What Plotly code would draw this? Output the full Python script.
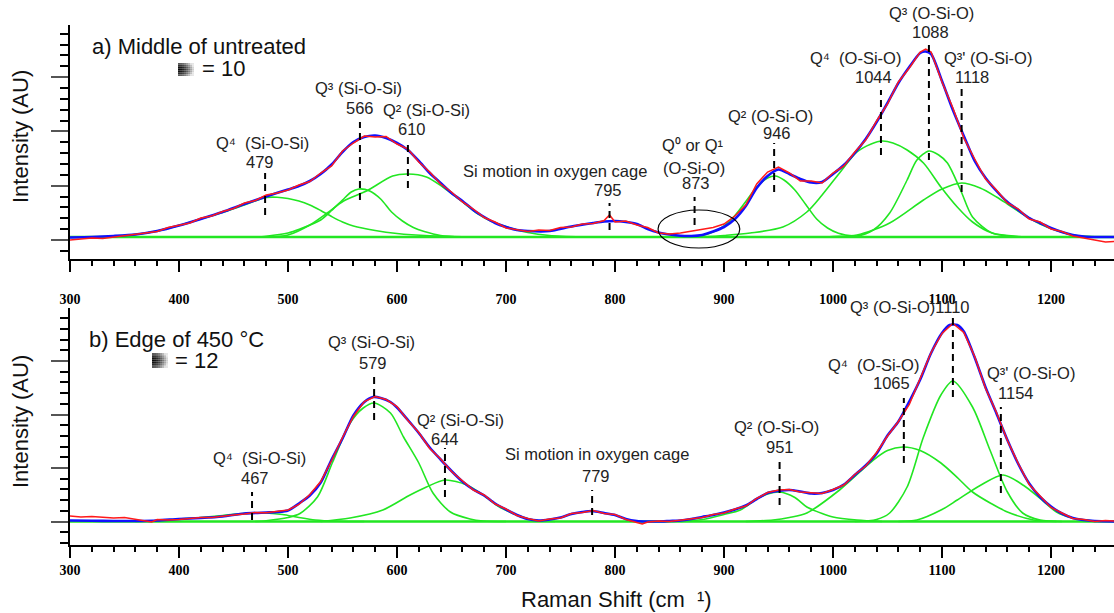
import plotly.graph_objects as go

# ------------------------------------------------------------------
# DATA  (Raman shift in cm-1, intensity in arbitrary counts above baseline)
# ------------------------------------------------------------------
x_range = [300, 1257.8]
a_y_range = [-215, 2120]
b_y_range = [-235, 2135]
baseline_x = [300, 1258]
baseline_y = [0, 0]

# ---- panel a) Middle of untreated ----
a_meas_x = [300,310,320,330,340,350,360,370,380,390,400,410,420,430,440,450,460,470,480,490,
            500,510,520,530,540,550,560,570,580,590,600,610,620,630,640,650,660,670,680,690,
            700,710,720,730,740,750,760,770,780,790,795,800,810,820,830,840,850,860,870,880,890,
            900,910,920,930,940,950,960,970,980,990,1000,1010,1020,1030,1040,1050,1060,1070,1080,1085,1090,
            1100,1110,1120,1130,1140,1150,1160,1170,1180,1190,1200,1210,1220,1230,1240,1250,1258]
a_meas_y = [-30,-20,-10,-15,0,15,30,45,55,95,120,140,190,210,255,285,340,365,420,440,
            470,520,555,640,710,860,940,1010,1000,1005,930,880,750,650,530,450,350,280,195,150,
            90,75,55,70,65,95,100,130,135,165,220,150,160,120,95,40,30,40,60,75,95,
            130,210,320,530,650,700,640,560,560,540,640,710,850,970,1160,1330,1550,1690,1850,1880,1850,
            1550,1290,990,780,580,470,340,280,180,150,80,55,10,-10,-30,-50,-45]

a_fit_x = [300,320,340,360,380,400,420,440,460,480,500,510,520,530,540,550,560,570,580,590,600,
           610,620,630,640,650,660,670,680,690,700,710,720,740,760,780,790,800,810,820,830,
           840,850,860,870,880,890,900,910,920,930,940,950,960,970,980,990,1000,1010,1020,1030,
           1040,1050,1060,1070,1080,1085,1090,1100,1110,1120,1130,1140,1150,1160,1170,1180,1190,1200,1210,1220,
           1230,1240,1258]
a_fit_y = [-5,0,10,25,60,115,180,250,330,405,475,510,560,630,725,850,950,1000,1015,990,940,
           870,760,640,540,440,360,270,200,140,100,70,60,60,105,140,155,160,150,130,80,
           45,25,12,10,20,55,100,180,310,490,610,675,630,580,545,550,630,720,840,980,
           1150,1340,1540,1700,1840,1855,1830,1560,1270,1010,760,590,460,350,270,190,140,90,50,20,
           5,0,0]

a_q4_479_x = [340,360,380,400,420,440,460,480,490,500,510,520,530,540,550,560,580,600,630,660,700]
a_q4_479_y = [10,25,60,115,180,245,320,395,398,385,360,320,265,205,150,110,65,35,12,3,0]
a_q3_566_x = [470,480,500,511,530,540,550,558,565,575,585,595,605,615,625,640,660]
a_q3_566_y = [0,8,40,80,170,265,370,450,480,460,380,250,160,95,55,15,0]
a_q2_610_x = [480,500,520,536,551,572,596,610,627,642,658,673,688,704,720,740,770]
a_q2_610_y = [0,20,120,240,360,460,610,630,600,500,370,240,150,90,45,15,0]
a_q2_946_x = [860,880,890,900,910,920,930,940,947,955,965,975,985,995,1005,1020,1040]
a_q2_946_y = [0,15,50,110,215,355,500,590,610,570,470,325,180,90,38,8,0]
a_q4_1044_x = [880,900,924,954,976,990,1006,1022,1035,1045,1055,1068,1083,1099,1114,1128,1146,1170,1190]
a_q4_1044_y = [0,15,40,100,250,420,640,850,930,960,940,870,740,500,300,150,40,5,0]
a_q3_1088_x = [1000,1020,1037,1052,1068,1077,1088,1097,1105,1117,1128,1146,1165,1180]
a_q3_1088_y = [0,5,70,240,570,770,860,820,740,470,200,40,5,0]
a_q3p_1118_x = [980,1000,1022,1052,1083,1100,1118,1135,1150,1160,1174,1190,1205,1220,1240]
a_q3p_1118_y = [0,5,20,140,370,480,540,490,400,330,230,130,65,20,3]

a_labels = [("Q⁴  (Si-O-Si)", 477, 940), ("479", 474, 750),
            ("Q³ (Si-O-Si)", 565, 1490), ("566", 566, 1290),
            ("Q² (Si-O-Si)", 627.5, 1270), ("610", 614, 1080),
            ("Si motion in oxygen cage", 745, 660), ("795", 793.5, 470),
            ("Q⁰ or Q¹", 872, 920), ("(O-Si-O)", 872.5, 690), ("873", 874, 540),
            ("Q² (O-Si-O)", 943, 1210), ("946", 948.5, 1040),
            ("Q⁴  (O-Si-O)", 1021, 1790), ("1044", 1037.5, 1600),
            ("Q³ (O-Si-O)", 1090, 2240), ("1088", 1089, 2050),
            ("Q³' (O-Si-O)", 1142, 1790), ("1118", 1127.5, 1600)]
a_peaks = [479, 566, 610, 795, 873, 946, 1044, 1088, 1118]
a_dash_lo = [220, 370, 490, 70, 120, 450, 820, 770, 450]
a_dash_hi = [640, 1150, 970, 340, 400, 940, 1470, 1950, 1500]

# ---- panel b) Edge of 450 °C ----
b_meas_x = [300,310,320,330,340,350,360,370,375,380,390,400,410,420,430,440,450,460,470,480,490,
            500,510,520,530,540,550,560,570,580,590,600,610,620,630,640,650,660,670,680,690,
            700,710,720,730,740,750,760,770,780,790,800,810,820,825,830,840,850,860,870,880,890,
            900,910,920,930,940,950,960,970,980,990,1000,1010,1020,1030,1040,1050,1060,1070,1080,1090,
            1100,1110,1120,1130,1140,1150,1160,1170,1180,1190,1200,1210,1220,1230,1240,1250,1258]
b_meas_y = [55,45,50,40,35,40,25,10,-5,20,15,20,30,40,40,55,65,75,90,88,100,
            115,170,270,400,610,840,1050,1200,1250,1220,1150,1010,890,730,625,500,405,315,265,175,
            125,60,30,5,25,35,80,90,110,80,70,20,-10,-25,-5,5,0,15,30,40,70,
            85,125,155,230,290,315,320,295,285,280,320,365,470,555,690,855,1000,1170,1430,1690,
            1880,1980,1890,1650,1330,1090,810,580,370,250,140,85,30,20,0,10,5]

b_fit_x = [300,320,340,360,380,400,420,440,460,480,490,500,510,520,530,540,550,560,570,578,
           585,594,600,610,620,630,640,650,660,670,680,690,700,710,720,730,740,750,760,770,
           779,790,800,810,820,830,840,850,860,870,880,890,900,910,920,930,940,950,960,970,
           980,990,1000,1010,1020,1030,1040,1050,1060,1070,1080,1090,1100,1107,1114,1120,1130,1140,1150,1160,
           1170,1180,1190,1200,1210,1220,1230,1240,1258]
b_fit_y = [10,8,5,5,10,25,35,50,80,90,95,110,180,260,390,620,830,1060,1195,1245,
           1235,1195,1140,1015,885,740,620,505,400,320,260,180,120,65,25,10,20,40,75,95,
           105,85,65,25,5,0,0,5,10,25,45,65,90,120,160,225,285,305,315,300,
           280,285,315,370,465,560,680,860,1000,1200,1420,1685,1885,1965,1965,1900,1640,1340,1080,815,
           575,380,245,150,80,35,15,5,0]

b_q4_467_x = [360,380,400,420,440,460,470,480,495,510,525,545,570]
b_q4_467_y = [0,10,25,40,60,82,88,85,70,40,15,3,0]
b_q3_579_x = [470,480,500,511,527,541,557,569,579,594,606,620,633,649,667,679,700]
b_q3_579_y = [0,8,40,80,245,595,985,1135,1185,1085,845,585,285,95,25,5,0]
b_q2_644_x = [530,557,587,612,627,644,664,679,694,710,724,745]
b_q2_644_y = [0,35,115,265,345,415,365,265,145,65,15,0]
b_q2_951_x = [860,880,900,915,930,940,951,965,976,990,1000,1022,1045]
b_q2_951_y = [0,20,70,115,225,275,295,240,145,80,45,15,0]
b_q4_1065_x = [920,945,960,976,1006,1037,1050,1064,1080,1099,1115,1128,1145,1160,1184,1205]
b_q4_1065_y = [0,15,40,85,315,615,710,745,710,585,430,295,180,95,15,0]
b_q3_1110_x = [1020,1040,1052,1068,1083,1099,1110,1128,1144,1160,1174,1190,1210]
b_q3_1110_y = [0,20,85,345,845,1265,1405,1145,715,295,85,15,0]
b_q3p_1154_x = [1060,1077,1100,1114,1135,1156,1175,1190,1205,1220,1240]
b_q3p_1154_y = [0,15,120,215,360,465,360,230,95,35,5]

b_labels = [("Q³ (Si-O-Si)", 577, 1795), ("579", 578, 1585),
            ("Q² (Si-O-Si)", 658, 1015), ("644", 644, 825),
            ("Q⁴  (Si-O-Si)", 474, 635), ("467", 470, 435),
            ("Si motion in oxygen cage", 783.5, 675), ("779", 782.5, 455),
            ("Q² (O-Si-O)", 948.5, 945), ("951", 951.5, 745),
            ("Q⁴  (O-Si-O)", 1037.5, 1565), ("1065", 1054, 1385),
            ("Q³ (O-Si-O)1110", 1070.5, 2145),
            ("Q³' (O-Si-O)", 1181.5, 1485), ("1154", 1167, 1285)]
b_peaks = [579, 644, 467, 779, 951, 1065, 1110, 1154]
b_dash_lo = [1015, 245, 15, 65, 165, 585, 1245, 285]
b_dash_hi = [1485, 735, 295, 315, 615, 1235, 2065, 1145]

panel_titles = ["a) Middle of untreated", "b) Edge of 450 °C"]
panel_counts = ["= 10", "= 12"]

# ------------------------------------------------------------------
# FIGURE
# ------------------------------------------------------------------
W, H = 1114, 613
GREEN = "#22e622"
RED = "#ff1a1a"
BLUE = "#1010ff"
TXT = "#222222"
SANS = "Liberation Sans, Arial, sans-serif"

fig = go.Figure()


def add_panel(xa, ya, comps, fit_x, fit_y, meas_x, meas_y):
    for cx, cy in comps:
        fig.add_trace(go.Scatter(x=cx, y=cy, mode="lines", xaxis=xa, yaxis=ya,
                                 line=dict(color=GREEN, width=1.6, shape="spline", smoothing=0.8)))
    fig.add_trace(go.Scatter(x=baseline_x, y=baseline_y, mode="lines", xaxis=xa, yaxis=ya,
                             line=dict(color=GREEN, width=2.5)))
    fig.add_trace(go.Scatter(x=fit_x, y=fit_y, mode="lines", xaxis=xa, yaxis=ya,
                             line=dict(color=BLUE, width=2.6, shape="spline", smoothing=0.7)))
    fig.add_trace(go.Scatter(x=meas_x, y=meas_y, mode="lines", xaxis=xa, yaxis=ya,
                             line=dict(color=RED, width=1.5)))


add_panel("x", "y",
          [(a_q4_479_x, a_q4_479_y), (a_q3_566_x, a_q3_566_y), (a_q2_610_x, a_q2_610_y),
           (a_q2_946_x, a_q2_946_y), (a_q4_1044_x, a_q4_1044_y), (a_q3_1088_x, a_q3_1088_y),
           (a_q3p_1118_x, a_q3p_1118_y)],
          a_fit_x, a_fit_y, a_meas_x, a_meas_y)
add_panel("x2", "y2",
          [(b_q4_467_x, b_q4_467_y), (b_q3_579_x, b_q3_579_y), (b_q2_644_x, b_q2_644_y),
           (b_q2_951_x, b_q2_951_y), (b_q4_1065_x, b_q4_1065_y), (b_q3_1110_x, b_q3_1110_y),
           (b_q3p_1154_x, b_q3p_1154_y)],
          b_fit_x, b_fit_y, b_meas_x, b_meas_y)

annotations = []
shapes = []


def add_labels(labels, xref, yref_dom, rng):
    # y given in data units; converted to axis-domain fraction so labels above the range still show
    for (txt, x, y) in labels:
        annotations.append(dict(text=txt, x=x, y=(y - rng[0]) / (rng[1] - rng[0]),
                                xref=xref, yref=yref_dom, showarrow=False,
                                xanchor="center", yanchor="middle",
                                font=dict(family=SANS, size=16.5, color=TXT)))


add_labels(a_labels, "x", "y domain", a_y_range)
add_labels(b_labels, "x2", "y2 domain", b_y_range)

for p, lo, hi in zip(a_peaks, a_dash_lo, a_dash_hi):
    shapes.append(dict(type="line", xref="x", yref="y", x0=p, x1=p, y0=lo, y1=hi,
                       line=dict(color="black", width=2, dash="7px,5px")))
for p, lo, hi in zip(b_peaks, b_dash_lo, b_dash_hi):
    shapes.append(dict(type="line", xref="x2", yref="y2", x0=p, x1=p, y0=lo, y1=hi,
                       line=dict(color="black", width=2, dash="7px,5px")))

# ellipse around the Q0/Q1 region of panel a
shapes.append(dict(type="circle", xref="x", yref="y", x0=839.5, x1=914.5, y0=-110, y1=270,
                   line=dict(color="black", width=1.2)))


def py(p):
    return 1 - p / H


def px(p):
    return p / W


# panel titles
title_pos = [(90, 46), (87, 339.5)]
count_pos = [(200, 68.5), (173, 360.5)]
square_pos = [(178, 63, 194, 76), (152, 353, 168, 368)]
for t, (tx, ty), c, (cx, cy), sq in zip(panel_titles, title_pos, panel_counts, count_pos, square_pos):
    annotations.append(dict(text=t, x=px(tx), y=py(ty), xref="paper", yref="paper",
                            showarrow=False, xanchor="left", yanchor="middle",
                            font=dict(family=SANS, size=22, color="#111111")))
    annotations.append(dict(text=c, x=px(cx), y=py(cy), xref="paper", yref="paper",
                            showarrow=False, xanchor="left", yanchor="middle",
                            font=dict(family=SANS, size=22, color="#111111")))
    # gradient square (decoration)
    x0, y0, x1, y1 = sq
    nx, ny = 8, 7
    for i in range(nx):
        for j in range(ny):
            fx = (i + 0.5) / nx
            fy = (j + 0.5) / ny - 0.5
            d = min(1.0, (fx ** 2 + (fy * 1.3) ** 2) ** 0.5)
            g = int(5 + 225 * d ** 1.7)
            shapes.append(dict(type="rect", xref="paper", yref="paper",
                               x0=px(x0 + (x1 - x0) * i / nx), x1=px(x0 + (x1 - x0) * (i + 1) / nx),
                               y0=py(y0 + (y1 - y0) * (j + 1) / ny), y1=py(y0 + (y1 - y0) * j / ny),
                               line=dict(width=0), fillcolor=f"rgb({g},{g},{g})", layer="above"))

# axis titles
for yc in (137, 422):
    annotations.append(dict(text="Intensity (AU)", x=px(20), y=py(yc), xref="paper", yref="paper",
                            showarrow=False, textangle=-90, xanchor="center", yanchor="middle",
                            font=dict(family=SANS, size=22, color="#111111")))
annotations.append(dict(text="Raman Shift (cm  ¹)", x=px(616), y=py(599), xref="paper", yref="paper",
                        showarrow=False, xanchor="center", yanchor="middle",
                        font=dict(family=SANS, size=22, color="#111111")))

xaxis_common = dict(range=x_range, domain=[70 / W, 1], showline=True, linecolor="black", linewidth=2,
                    ticks="outside", ticklen=11, tickwidth=2, tickcolor="black",
                    tick0=300, dtick=100, showgrid=False, zeroline=False,
                    minor=dict(ticks="outside", dtick=20, tick0=300, ticklen=5, tickwidth=1.5,
                               tickcolor="black", showgrid=False),
                    tickfont=dict(family="Liberation Serif, Times New Roman, serif", size=14,
                                  color="black", weight="bold"))
yaxis_common = dict(showline=True, linecolor="black", linewidth=2, ticks="outside", ticklen=17,
                    tickwidth=1.5, tickcolor="#555555", showticklabels=False, showgrid=False,
                    zeroline=False)

fig.update_layout(
    width=W, height=H, margin=dict(l=0, r=0, t=0, b=0, autoexpand=False),
    paper_bgcolor="white", plot_bgcolor="white", showlegend=False,
    xaxis=dict(**xaxis_common, anchor="y", ticklabelstandoff=16),
    xaxis2=dict(**xaxis_common, anchor="y2", ticklabelstandoff=0),
    yaxis=dict(**yaxis_common, anchor="x", domain=[1 - 258.5 / H, 1 - 25 / H], range=a_y_range,
               tick0=-30, dtick=543,
               minor=dict(ticks="outside", tick0=-30, dtick=108.6, ticklen=8, tickwidth=1.5,
                          tickcolor="black", showgrid=False)),
    yaxis2=dict(**yaxis_common, anchor="x2", domain=[1 - 545 / H, 1 - 308 / H], range=b_y_range,
                tick0=0, dtick=535,
                minor=dict(ticks="outside", tick0=0, dtick=107, ticklen=8, tickwidth=1.5,
                           tickcolor="black", showgrid=False)),
    annotations=annotations, shapes=shapes,
)

fig.write_html("out.html")
